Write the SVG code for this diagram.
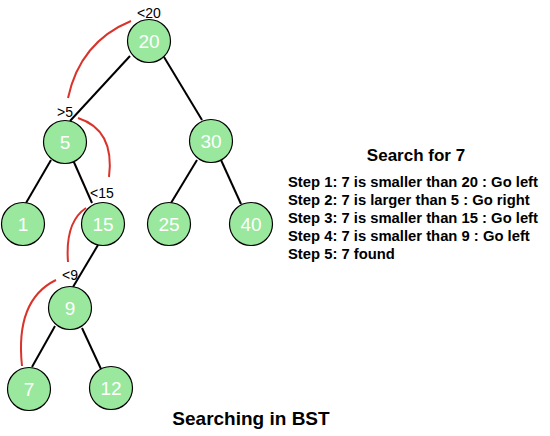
<svg xmlns="http://www.w3.org/2000/svg" width="550" height="436" viewBox="0 0 550 436">
<style>
.node circle{fill:#99e89d;stroke:#000;stroke-width:1.2}
.node text{fill:#fff;font-family:"Liberation Sans",Arial,sans-serif;font-size:19px;text-anchor:middle}
.edge{stroke:#000;stroke-width:2;fill:none}
.path{stroke:#d9342b;stroke-width:2;fill:none}
.lbl{font-family:"Liberation Sans",Arial,sans-serif;font-size:14px;fill:#000}
.b{font-family:"Liberation Sans",Arial,sans-serif;font-weight:bold;fill:#000}
</style>
<rect width="550" height="436" fill="#fff"/>
<g id="connectors">
<line class="edge" x1="130" y1="56" x2="70" y2="121"/>
<line class="edge" x1="164" y1="57" x2="202" y2="120"/>
<line class="edge" x1="51" y1="160" x2="26" y2="203"/>
<line class="edge" x1="73" y1="160" x2="92" y2="203"/>
<line class="edge" x1="197" y1="160" x2="171" y2="203"/>
<line class="edge" x1="221" y1="160" x2="241" y2="204"/>
<line class="edge" x1="98" y1="245" x2="73" y2="287"/>
<line class="edge" x1="55" y1="326" x2="32" y2="367"/>
<line class="edge" x1="82" y1="328" x2="101" y2="369"/>
<path class="path" d="M131 21 Q80 42 68 98"/>
<path class="path" d="M78 118 Q115 130 109 177"/>
<path class="path" d="M86 208 Q65 222 68 262"/>
<path class="path" d="M56 280 Q15 300 22 366"/>
</g>
<g id="labels">
<text class="lbl" x="137" y="18">&lt;20</text>
<text class="lbl" x="57" y="117">&gt;5</text>
<text class="lbl" x="90" y="198">&lt;15</text>
<text class="lbl" x="62" y="280">&lt;9</text>
</g>
<g id="n20" class="node"><circle cx="149" cy="41" r="21.5"/><text x="149" y="48">20</text></g>
<g id="n5" class="node"><circle cx="65" cy="142" r="21.5"/><text x="65" y="149">5</text></g>
<g id="n30" class="node"><circle cx="211" cy="141" r="21.5"/><text x="211" y="148">30</text></g>
<g id="n1" class="node"><circle cx="23" cy="224" r="21.5"/><text x="23" y="231">1</text></g>
<g id="n15" class="node"><circle cx="103" cy="224" r="21.5"/><text x="103" y="231">15</text></g>
<g id="n25" class="node"><circle cx="169" cy="224" r="21.5"/><text x="169" y="231">25</text></g>
<g id="n40" class="node"><circle cx="251" cy="224" r="21.5"/><text x="251" y="231">40</text></g>
<g id="n9" class="node"><circle cx="70" cy="308" r="21.5"/><text x="70" y="315">9</text></g>
<g id="n7" class="node"><circle cx="29" cy="389" r="21.5"/><text x="29" y="396">7</text></g>
<g id="n12" class="node"><circle cx="111" cy="388" r="21.5"/><text x="111" y="395">12</text></g>
<g id="info">
<text class="b" x="416" y="161" font-size="17" text-anchor="middle">Search for 7</text>
<text class="b" x="288" y="187" font-size="14.8">Step 1: 7 is smaller than 20 : Go left</text>
<text class="b" x="288" y="205" font-size="14.8">Step 2: 7 is larger than 5 : Go right</text>
<text class="b" x="288" y="223" font-size="14.8">Step 3: 7 is smaller than 15 : Go left</text>
<text class="b" x="288" y="241" font-size="14.8">Step 4: 7 is smaller than 9 : Go left</text>
<text class="b" x="288" y="259" font-size="14.8">Step 5: 7 found</text>
</g>
<text class="b" x="251" y="425" font-size="19" text-anchor="middle">Searching in BST</text>
</svg>
